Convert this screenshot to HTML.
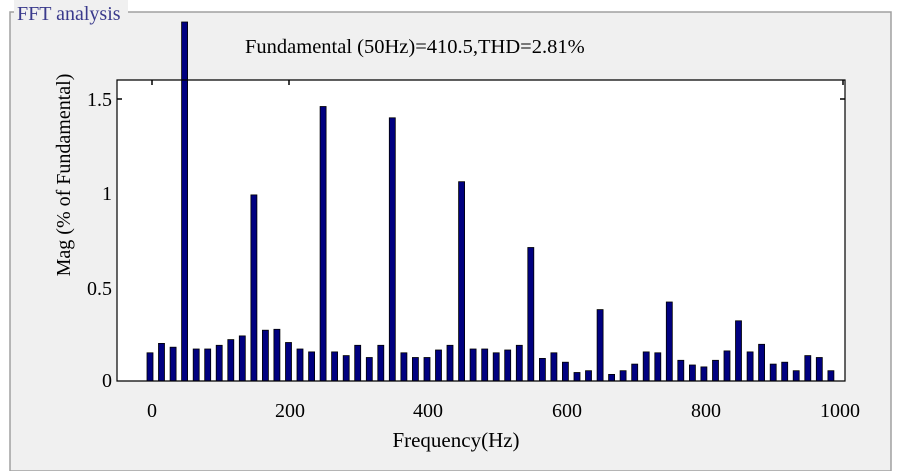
<!DOCTYPE html>
<html><head><meta charset="utf-8"><style>
html,body{margin:0;padding:0;background:#fff;}
svg{display:block;}
text{font-family:"Liberation Serif",serif;}
</style></head><body>
<svg width="903" height="471" viewBox="0 0 903 471" xmlns="http://www.w3.org/2000/svg">
<rect x="0" y="0" width="903" height="471" fill="#fff"/>
<rect x="10" y="12" width="881" height="459" fill="#f0f0f0" stroke="#a0a0a0" stroke-width="1.5"/>
<rect x="14" y="0" width="114" height="22" fill="#f0f0f0"/>
<text x="17" y="20" font-size="20" fill="#3a3a8c">FFT analysis</text>
<rect x="117" y="80" width="728" height="301" fill="#fff"/>
<g fill="#000080" stroke="#000" stroke-width="0.8">
<rect x="147.0" y="352.8" width="6" height="28.2"/>
<rect x="158.5" y="343.4" width="6" height="37.6"/>
<rect x="170.1" y="347.2" width="6" height="33.8"/>
<rect x="181.6" y="22" width="6" height="359"/>
<rect x="193.2" y="349.0" width="6" height="32.0"/>
<rect x="204.7" y="349.0" width="6" height="32.0"/>
<rect x="216.2" y="345.3" width="6" height="35.7"/>
<rect x="227.8" y="339.6" width="6" height="41.4"/>
<rect x="239.3" y="335.9" width="6" height="45.1"/>
<rect x="250.9" y="194.9" width="6" height="186.1"/>
<rect x="262.4" y="330.2" width="6" height="50.8"/>
<rect x="273.9" y="329.3" width="6" height="51.7"/>
<rect x="285.5" y="342.5" width="6" height="38.5"/>
<rect x="297.0" y="349.0" width="6" height="32.0"/>
<rect x="308.6" y="351.9" width="6" height="29.1"/>
<rect x="320.1" y="106.5" width="6" height="274.5"/>
<rect x="331.6" y="351.9" width="6" height="29.1"/>
<rect x="343.2" y="355.6" width="6" height="25.4"/>
<rect x="354.7" y="345.3" width="6" height="35.7"/>
<rect x="366.3" y="357.5" width="6" height="23.5"/>
<rect x="377.8" y="345.3" width="6" height="35.7"/>
<rect x="389.3" y="117.8" width="6" height="263.2"/>
<rect x="400.9" y="352.8" width="6" height="28.2"/>
<rect x="412.4" y="357.5" width="6" height="23.5"/>
<rect x="424.0" y="357.5" width="6" height="23.5"/>
<rect x="435.5" y="350.0" width="6" height="31.0"/>
<rect x="447.0" y="345.3" width="6" height="35.7"/>
<rect x="458.6" y="181.7" width="6" height="199.3"/>
<rect x="470.1" y="349.0" width="6" height="32.0"/>
<rect x="481.7" y="349.0" width="6" height="32.0"/>
<rect x="493.2" y="352.8" width="6" height="28.2"/>
<rect x="504.7" y="350.0" width="6" height="31.0"/>
<rect x="516.3" y="345.3" width="6" height="35.7"/>
<rect x="527.8" y="247.5" width="6" height="133.5"/>
<rect x="539.4" y="358.4" width="6" height="22.6"/>
<rect x="550.9" y="352.8" width="6" height="28.2"/>
<rect x="562.4" y="362.2" width="6" height="18.8"/>
<rect x="574.0" y="372.5" width="6" height="8.5"/>
<rect x="585.5" y="370.7" width="6" height="10.3"/>
<rect x="597.1" y="309.6" width="6" height="71.4"/>
<rect x="608.6" y="374.4" width="6" height="6.6"/>
<rect x="620.1" y="370.7" width="6" height="10.3"/>
<rect x="631.7" y="364.1" width="6" height="16.9"/>
<rect x="643.2" y="351.9" width="6" height="29.1"/>
<rect x="654.8" y="352.8" width="6" height="28.2"/>
<rect x="666.3" y="302.0" width="6" height="79.0"/>
<rect x="677.8" y="360.3" width="6" height="20.7"/>
<rect x="689.4" y="365.0" width="6" height="16.0"/>
<rect x="700.9" y="366.9" width="6" height="14.1"/>
<rect x="712.5" y="360.3" width="6" height="20.7"/>
<rect x="724.0" y="350.9" width="6" height="30.1"/>
<rect x="735.5" y="320.8" width="6" height="60.2"/>
<rect x="747.1" y="351.9" width="6" height="29.1"/>
<rect x="758.6" y="344.3" width="6" height="36.7"/>
<rect x="770.2" y="364.1" width="6" height="16.9"/>
<rect x="781.7" y="362.2" width="6" height="18.8"/>
<rect x="793.2" y="370.7" width="6" height="10.3"/>
<rect x="804.8" y="355.6" width="6" height="25.4"/>
<rect x="816.3" y="357.5" width="6" height="23.5"/>
<rect x="827.9" y="370.7" width="6" height="10.3"/>
</g>
<path d="M117 80 H845 V381 H117 Z" fill="none" stroke="#000" stroke-width="1.2"/>
<text x="245" y="53" font-size="20.5" fill="#000">Fundamental (50Hz)=410.5,THD=2.81%</text>
<g font-size="20" fill="#000" text-anchor="end">
<text x="112" y="387">0</text>
<text x="112" y="295">0.5</text>
<text x="112" y="200">1</text>
<text x="112" y="106">1.5</text>
</g>
<g font-size="20" fill="#000" text-anchor="middle">
<text x="152" y="417">0</text>
<text x="290" y="417">200</text>
<text x="428" y="417">400</text>
<text x="567" y="417">600</text>
<text x="706" y="417">800</text>
<text x="840" y="417">1000</text>
</g>
<text x="456" y="447" font-size="21" text-anchor="middle">Frequency(Hz)</text>
<text transform="translate(70,175) rotate(-90)" font-size="20" text-anchor="middle">Mag (% of Fundamental)</text>
<g stroke="#000" stroke-width="1.5">
<line x1="117" y1="99" x2="122" y2="99"/><line x1="840" y1="99" x2="845" y2="99"/>
<line x1="152" y1="80" x2="152" y2="85"/><line x1="289" y1="80" x2="289" y2="85"/>
<line x1="843" y1="80" x2="843" y2="85"/>
</g>
</svg>
</body></html>
